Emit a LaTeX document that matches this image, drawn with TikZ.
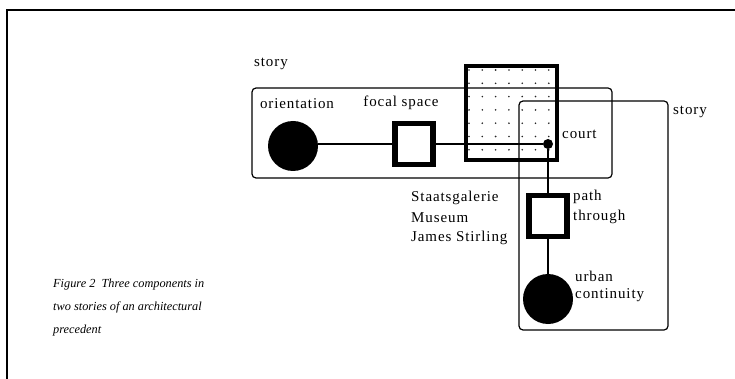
\documentclass[tikz,border=0pt]{standalone}
\usepackage{fontspec}
\setmainfont{Liberation Serif}
\begin{document}
\begin{tikzpicture}[x=1pt,y=-1pt,
  lbl/.style={inner sep=0pt,font=\fontsize{15}{17}\selectfont\addfontfeature{LetterSpace=6}},
  storybox/.style={draw,line width=1.2pt,rounded corners=4pt},
  bigdot/.style={circle,fill=black,inner sep=0pt,minimum size=50pt},
  sqbox/.style={draw,line width=5.5pt,fill=white,inner sep=0pt,minimum width=38pt,minimum height=41pt},
  link/.style={line width=1.3pt},
  captxt/.style={inner sep=0pt,anchor=west,font=\fontsize{12.3}{13}\selectfont\itshape}]
\useasboundingbox (0,0) rectangle (735,379);
% frame
\draw[line width=1.4pt] (7,390) -- (7,10) -- (745,10);
% court square with dots
\fill[white] (466,66) rectangle (557,160);
\foreach \x in {469,482.3,495.6,508.9,522.2,535.5,548.8}
  \foreach \y in {70,83.3,96.6,109.9,123.2,136.5,149.8}
    \fill[black!85] (\x,\y) circle (0.9pt);
% story boxes
\draw[storybox] (252,88) rectangle (612,178);
\draw[storybox] (519,101) rectangle (668,330);
\draw[line width=3.4pt] (466,66) rectangle (557,160);
% nodes
\node[bigdot] (orient) at (293,146) {};
\node[sqbox] (focal) at (414,144) {};
\node[circle,fill=black,inner sep=0pt,minimum size=10pt] (court) at (548,144) {};
\node[sqbox] (path) at (548,216) {};
\node[bigdot] (urban) at (548,299) {};
% connectors
\draw[link] (orient.east |- focal) -- (focal);
\draw[link] (focal) -- (court);
\draw[line width=1.8pt] (court) -- (path);
\draw[link] (path) -- (urban);
\node[sqbox] at (414,144) {};
\node[sqbox] at (548,216) {};
% labels
\node[lbl,anchor=west] (story1) at (254,64) {story};
\node[lbl,anchor=west] (story2) at (673,112) {story};
\node[lbl] (lorient) at (297,104) {orientation};
\node[lbl] (lfocal) at (401,103) {focal space};
\node[lbl,anchor=west] (lcourt) at (562,134) {court};
\node[lbl,anchor=west] (lpath) at (573,197) {path};
\node[lbl,anchor=west] (lthrough) at (573,217) {through};
\node[lbl,anchor=west] (lurban) at (575,276) {urban};
\node[lbl,anchor=west] (lcont) at (575,295) {continuity};
\node[lbl,anchor=west] (s1) at (411,198) {Staatsgalerie};
\node[lbl,anchor=west] (s2) at (411,218) {Museum};
\node[lbl,anchor=west] (s3) at (411,238) {James Stirling};
% caption
\node[captxt] (c1) at (53,285) {Figure 2\enspace Three components in};
\node[captxt] (c2) at (53,307) {two stories of an architectural};
\node[captxt] (c3) at (53,331) {precedent};
\end{tikzpicture}
\end{document}
